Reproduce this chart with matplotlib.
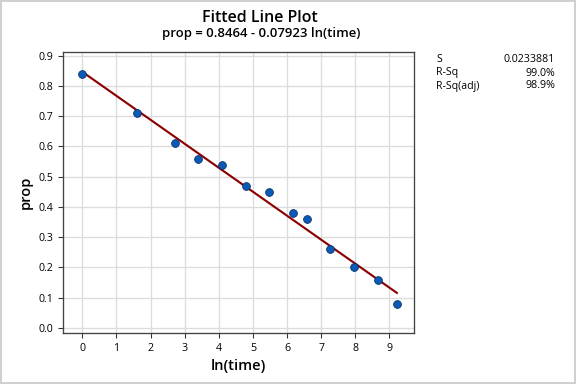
import matplotlib
matplotlib.use("Agg")
import matplotlib.pyplot as plt
from matplotlib.patches import Rectangle

ln_time = [0.0, 1.609, 2.708, 3.401, 4.094, 4.787, 5.481, 6.174, 6.579, 7.272, 7.966, 8.659, 9.218]
prop = [0.84, 0.71, 0.61, 0.56, 0.54, 0.47, 0.45, 0.38, 0.36, 0.26, 0.20, 0.16, 0.08]
intercept = 0.8464
slope = -0.07923
stat_labels = ["S", "R-Sq", "R-Sq(adj)"]
stat_values = ["0.0233881", "99.0%", "98.9%"]
x_ticks = list(range(0, 10))
y_ticks = [0.0, 0.1, 0.2, 0.3, 0.4, 0.5, 0.6, 0.7, 0.8, 0.9]

plt.rcParams['font.family'] = ['Open Sans', 'DejaVu Sans']

W, H = 576, 384
fig = plt.figure(figsize=(6, 4), dpi=96)
ax = fig.add_axes([63 / W, 1 - 333 / H, (414 - 63) / W, (333 - 52) / H])

ax.set_xlim(-0.566, 9.72)
ax.set_ylim(-0.0165, 0.912)
ax.set_xticks(x_ticks)
ax.set_yticks(y_ticks)
ax.set_yticklabels([f"{v:.1f}" for v in y_ticks])
ax.grid(True, color='#dcdcdc', linewidth=1.0)
ax.set_axisbelow(True)
ax.tick_params(direction='out', length=4, width=0.8, colors='#333333', labelsize=8, labelcolor='black')
for s in ax.spines.values():
    s.set_color('#444444')
    s.set_linewidth(1.0)

x0, x1 = min(ln_time), max(ln_time)
ax.plot([x0, x1], [intercept + slope * x0, intercept + slope * x1], color='#8b0000', linewidth=1.6, zorder=2)
ax.scatter(ln_time, prop, s=34, color='#0b5bb5', edgecolors='#0a2e6e', linewidths=0.6, zorder=3)

ax.set_xlabel("ln(time)", fontsize=11, fontweight='semibold', labelpad=4)
ax.set_ylabel("prop", fontsize=11, fontweight='semibold', labelpad=4)

fig.text(260 / W, 1 - 18 / H, "Fitted Line Plot", ha='center', va='center', fontsize=12, fontweight='semibold')
fig.text(261 / W, 1 - 34 / H, "prop = 0.8464 - 0.07923 ln(time)", ha='center', va='center', fontsize=9.8, fontweight='semibold')

for i, (lab, val) in enumerate(zip(stat_labels, stat_values)):
    y = 1 - (60 + 13 * i) / H
    fig.text(436 / W, y, lab, ha='left', va='center', fontsize=8)
    fig.text(555 / W, y, val, ha='right', va='center', fontsize=8)

fig.patches.append(Rectangle((1 / W, 1 / H), 1 - 2 / W, 1 - 2 / H, transform=fig.transFigure,
                             fill=False, edgecolor='#d0d0d0', linewidth=1.5))

fig.savefig("out.png", dpi=96)
